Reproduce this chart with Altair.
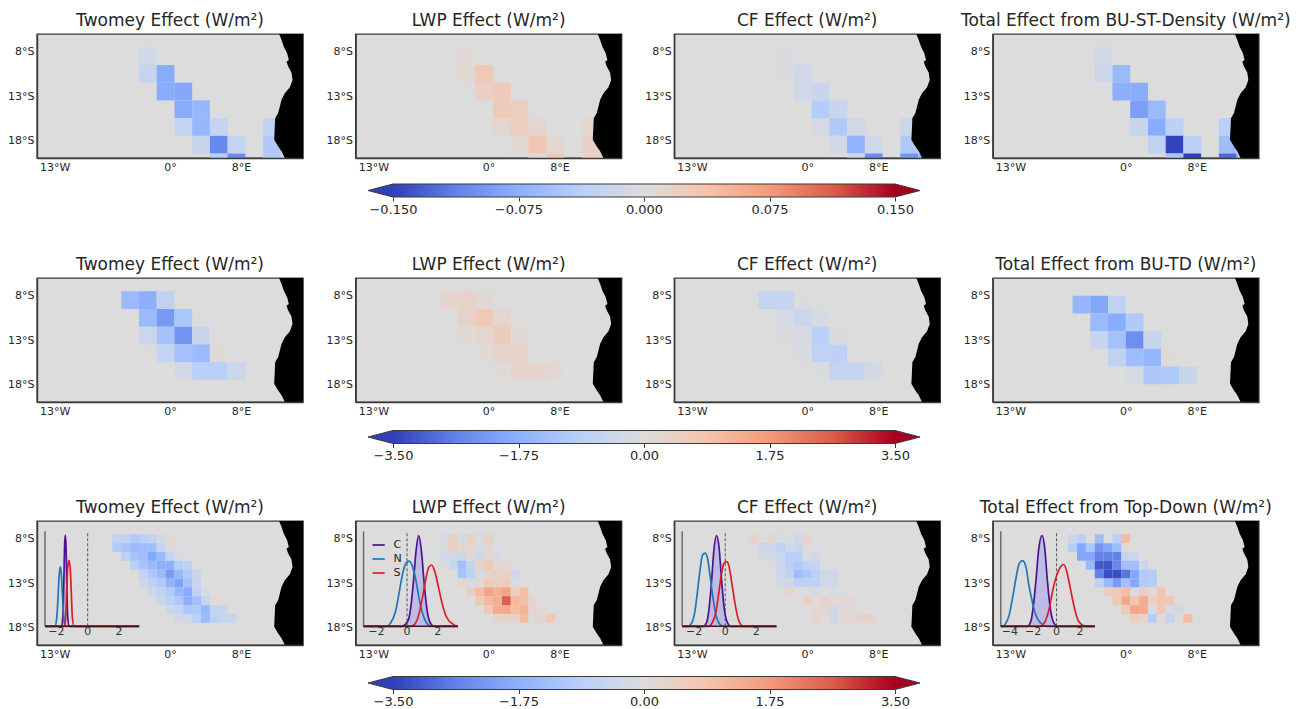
import altair as alt
import pandas as pd
import numpy as np

FONT = "DejaVu Sans"
INK = "#262626"
EDGE = "#3a3a3a"
LAND = "black"
SEA = "#dcdcdc"
STOPS = [-1, -0.75, -0.5, -0.25, 0, 0.25, 0.5, 0.75, 1]
COOLWARM = ["#3040b8", "#6282ea", "#8db0fe", "#b9d0f9", "#dddcdc", "#f5c4ac", "#f49a7b", "#dc5d4a", "#a8001f"]

# Coastline (degrees)
coast_lat = [-6, -6.68, -7.43, -8.18, -8.93, -9.12, -9.68, -10.35, -11.18, -12.0, -12.68, -13.43, -14.18,
             -14.93, -15.5, -16.44, -17.94, -18.69, -19.25, -20]
coast_lon = [12.31, 12.58, 12.84, 13.21, 13.40, 13.14, 13.33, 13.70, 13.82, 13.52, 12.95, 12.58, 12.39,
             12.20, 11.86, 11.82, 11.75, 12.20, 12.58, 12.95]

N = None
# Each row: latitude, first longitude, cell values as a fraction of the colour-bar limit
st_twomey = [(-8.5, -2.5, [-.08]), (-10.5, -2.5, [-.17, -.52]), (-12.5, -.5, [-.52, -.55]), (-14.5, 1.5, [-.52, -.45]),
             (-16.5, 1.5, [-.17, -.45, -.17, N, N, -.2]), (-18.5, 3.5, [-.15, -.72, -.17, N, -.3]),
             (-20.5, 5.5, [-.25, -.7, N, -.3, -.2])]
st_lwp = [(-8.5, -2.5, [.03]), (-10.5, -2.5, [.04, .2]), (-12.5, -.5, [.12, .18]), (-14.5, 1.5, [.18, .15]),
          (-16.5, 1.5, [.06, .15, .06, N, N, .07]), (-18.5, 3.5, [.04, .22, .06, N, .12]),
          (-20.5, 5.5, [.05, .2, N, .12, .12])]
st_cf = [(-8.5, -2.5, [-.02]), (-10.5, -2.5, [-.02, -.1]), (-12.5, -.5, [-.1, -.14]), (-14.5, 1.5, [-.28, -.15]),
         (-16.5, 1.5, [-.06, -.3, -.08, N, N, -.12]), (-18.5, 3.5, [-.08, -.48, -.1, N, -.3]),
         (-20.5, 5.5, [-.15, -.7, N, -.65, -.45])]
st_total = [(-8.5, -2.5, [-.08]), (-10.5, -2.5, [-.12, -.42]), (-12.5, -.5, [-.5, -.52]), (-14.5, 1.5, [-.6, -.42]),
            (-16.5, 1.5, [-.15, -.52, -.22, N, N, -.25]), (-18.5, 3.5, [-.2, -.98, -.22, N, -.4]),
            (-20.5, 5.5, [-.35, -1.0, N, -.85, -.4])]

td_twomey = [(-8.5, -4.5, [-.42, -.5, -.2]), (-10.5, -2.5, [-.42, -.62, -.33]), (-12.5, -2.5, [-.13, -.35, -.65, -.15]),
             (-14.5, -.5, [-.17, -.37, -.42, .02]), (-16.5, 1.5, [-.08, -.25, -.25, -.12])]
td_lwp = [(-8.5, -4.5, [.08, .1, .04]), (-10.5, -2.5, [.1, .2, .07]), (-12.5, -2.5, [.03, .06, .17, .02]),
          (-14.5, -.5, [.03, .09, .11]), (-16.5, 1.5, [.02, .09, .09, .04])]
td_cf = [(-8.5, -4.5, [-.17, -.17, -.03]), (-10.5, -2.5, [-.06, -.12, -.05]), (-12.5, -2.5, [-.02, -.05, -.23, -.02]),
         (-14.5, -.5, [-.04, -.2, -.22]), (-16.5, 1.5, [-.02, -.18, -.18, -.07])]
td_total = [(-9, -5, [-.45, -.55, -.2]), (-11, -3, [-.42, -.52, -.3]), (-13, -3, [-.15, -.37, -.68, -.15]),
            (-15, -1, [-.2, -.4, -.45, .02]), (-17, 1, [-.06, -.32, -.3, -.14])]

fine_twomey = [(-8, -6, [-.2, -.2, -.3, -.25, -.2, -.07, .05]), (-9, -6, [-.3, -.35, -.42, -.4, -.4, -.17, .02]),
               (-10, -5, [-.22, -.35, -.4, -.55, -.42, -.17, -.06]), (-11, -4, [-.25, -.35, -.42, -.5, -.5, -.27, -.2]),
               (-12, -3, [-.18, -.32, -.42, -.62, -.45, -.3, -.15]), (-13, -3, [-.1, -.22, -.3, -.48, -.58, -.35, -.17]),
               (-14, -2, [-.12, -.2, -.3, -.45, -.52, -.2, -.05]), (-15, -1, [-.15, -.25, -.32, -.5, -.38, -.17, .03]),
               (-16, 0, [-.12, -.17, -.32, -.3, -.45, -.17, -.15]), (-17, 1, [-.07, -.1, -.25, -.42, -.22, -.17, -.15])]
fine_lwp = [(-8, -5, [-.06, .13, -.06, .12, -.03, .12]), (-9, -5, [-.02, .15, .06, .07, -.04, .04]),
            (-10, -5, [-.1, -.1, -.12, .04, -.08, .04, -.07]), (-11, -4, [-.15, -.38, -.18, .1, .2, .05, .05]),
            (-12, -3, [-.35, -.22, -.05, .1, .12, .12, -.1]), (-13, -3, [.07, -.05, .04, .18, .15, .18, -.05]),
            (-14, -2, [.15, .3, .45, .38, .45, .15, .28]), (-15, -1, [.2, .33, .38, .75, .32, .28, .08]),
            (-16, 0, [.2, .4, .42, .28, .35, .06, .03]), (-17, 1, [.08, .1, .08, .3, -.03, .08, .2])]
fine_cf = [(-8, -6, [.08, 0, .08, -.05, -.02, -.1, .08]), (-9, -6, [-.03, -.15, -.12, -.2, -.1, -.15, .02]),
           (-10, -5, [-.07, -.08, -.13, -.25, -.25, -.02, -.08]), (-11, -3, [-.13, -.25, -.3, -.2, -.18]),
           (-12, -3, [-.13, -.2, -.4, -.32, -.25, -.12, -.1]), (-13, -3, [-.1, -.1, -.22, -.2, -.2, -.1, -.1]),
           (-14, -2, [.07, 0, -.02, -.06, 0, -.04, -.03]), (-15, 0, [.12, .03, .08, .05, .04, .04]),
           (-16, 1, [.05, .07, -.08, .03, .04, -.01]), (-17, 1, [.08, .02, -.1, .04, .05, .08, .1])]
fine_total = [(-8, -6, [-.12, -.25, N, -.4, N, -.25, .3]), (-9, -6, [-.28, -.55, -.32, -.65, -.55, -.4, .03]),
              (-10, -5, [-.55, -.55, -.75, -.75, -.75, -.17, -.13]), (-11, -4, [-.42, -.9, -.92, -.72, -.38, -.38, -.13]),
              (-12, -3, [-.75, -.95, -.95, -.8, -.55, -.3, -.28]), (-13, -3, [-.2, -.42, -.62, -.38, -.55, -.3, -.28]),
              (-14, -2, [.15, .2, .3, -.05, .15, .05, .25]), (-15, -1, [.2, .42, .25, .4, .13, .25, .2]),
              (-16, 0, [.2, .42, .4, -.05, .22, -.04, -.08]), (-17, 1, [.15, .08, -.28, .03, -.18, .03, .28])]

# Inset density curves: [x values], [height relative to the inset's y axis]
twomey_c = ([-1.66, -1.575, -1.51, -1.47, -1.43, -1.38, -1.34, -1.28, -1.17], [0, .12, .55, .85, .96, .85, .55, .12, 0])
twomey_n = ([-2.09, -1.98, -1.89, -1.81, -1.745, -1.68, -1.60, -1.51, -1.40], [0, .07, .3, .55, .625, .55, .3, .07, 0])
twomey_s = ([-1.49, -1.40, -1.34, -1.28, -1.19, -1.11, -1.04, -.98, -.87], [0, .1, .35, .6, .695, .6, .35, .1, 0])
lwp_c = ([-.37, -.11, .11, .28, .43, .59, .76, .93, 1.09, 1.24, 1.41, 1.63, 1.78],
         [0, .02, .08, .25, .5, .8, .955, .8, .5, .25, .08, .01, 0])
lwp_n = ([-1.37, -1.09, -.76, -.54, -.33, -.11, .15, .37, .59, .80, 1.02, 1.30, 1.52],
         [0, .03, .15, .33, .52, .65, .685, .62, .47, .28, .13, .03, 0])
lwp_s = ([.28, .54, .76, .98, 1.20, 1.41, 1.59, 1.80, 2.02, 2.24, 2.46, 2.67, 2.93, 3.26],
         [0, .03, .12, .28, .48, .62, .645, .58, .43, .27, .14, .07, .03, 0])
cf_c = ([-1.42, -1.20, -1.03, -.88, -.73, -.56, -.41, -.24, -.09, .09, .34], [0, .04, .2, .47, .8, .955, .85, .5, .22, .06, 0])
cf_n = ([-2.39, -2.17, -1.96, -1.81, -1.63, -1.46, -1.29, -1.12, -.95, -.77, -.60, -.39, -.13],
        [0, .03, .15, .33, .58, .75, .77, .7, .5, .28, .12, .03, 0])
cf_s = ([-1.05, -.82, -.60, -.43, -.26, -.09, .09, .26, .43, .60, .77, .95, 1.16],
        [0, .04, .15, .33, .53, .66, .68, .62, .45, .27, .12, .03, 0])
tot_c = ([-2.47, -2.18, -1.98, -1.75, -1.52, -1.24, -1.01, -.80, -.60, -.37, .06], [0, .06, .22, .5, .82, .955, .82, .5, .25, .08, 0])
tot_n = ([-4.63, -4.34, -4.05, -3.76, -3.48, -3.19, -2.90, -2.61, -2.39, -2.10, -1.81, -1.47, -.83],
         [0, .03, .12, .3, .5, .66, .69, .62, .45, .27, .13, .05, 0])
tot_s = ([-1.47, -1.03, -.66, -.32, -.03, .26, .63, .92, 1.21, 1.55, 1.90, 2.5],
         [0, .04, .17, .38, .52, .61, .65, .55, .38, .18, .05, 0])

SERIES = ["C", "N", "S"]
SERIES_COLORS = ["#4b1391", "#1f77b4", "#dc1c24"]

PANEL_W, PANEL_H = 266, 124
X_DOM, Y_DOM = [-15, 15], [-20, -6]
INSET_F = (0.03, 0.384)
INSET_Y = [-0.197, 1.108]


def cell_table(rows, step, limit):
    out = []
    for lat, first, vals in rows:
        for i, v in enumerate(vals):
            if v is None:
                continue
            lon = first + i * step
            out.append(dict(lon0=lon - step / 2, lon1=lon + step / 2, lat0=lat - step / 2, lat1=lat + step / 2,
                            val=v * limit))
    return pd.DataFrame(out)


def color_scale(limit):
    return alt.Scale(domain=[s * limit for s in STOPS], range=COOLWARM, interpolate="rgb")


def map_layer(rows, step, limit):
    xs = alt.Scale(domain=X_DOM, nice=False, zero=False)
    ys = alt.Scale(domain=Y_DOM, nice=False, zero=False)
    cells = alt.Chart(cell_table(rows, step, limit)).mark_rect(clip=True, strokeWidth=0).encode(
        x=alt.X("lon0:Q", scale=xs, axis=alt.Axis(
            values=[-13, 0, 8], title=None, grid=False, ticks=False, labelPadding=3, labelFontSize=11, labelColor=INK,
            labelFont=FONT, domainColor=EDGE, domainWidth=1.4, zindex=1, labels=True,
            labelExpr="datum.value<0?abs(datum.value)+'°W':datum.value>0?datum.value+'°E':'0°'")),
        x2="lon1:Q",
        y=alt.Y("lat0:Q", scale=ys, axis=alt.Axis(
            values=[-8, -13, -18], title=None, grid=False, ticks=False, labelPadding=3, labelFontSize=11, labelColor=INK,
            labelFont=FONT, domainColor=EDGE, domainWidth=1.4, zindex=1, labels=True,
            labelExpr="abs(datum.value)+'°S'")),
        y2="lat1:Q",
        color=alt.Color("val:Q", scale=color_scale(limit), legend=None),
    )
    land = alt.Chart(pd.DataFrame(dict(lat=coast_lat, lon=coast_lon, edge=[X_DOM[1]] * len(coast_lat)))).mark_area(
        color=LAND, orient="horizontal", clip=True).encode(
        x=alt.X("lon:Q", scale=xs), x2="edge:Q", y=alt.Y("lat:Q", scale=ys))
    return alt.layer(cells, land)


def inset_layer(curves, x0, x1, ticks, legend=False):
    f0, f1 = INSET_F
    span = (x1 - x0) / (f1 - f0)
    lo = x0 - f0 * span
    xs = alt.Scale(domain=[lo, lo + span], nice=False, zero=False)
    ys = alt.Scale(domain=INSET_Y, nice=False, zero=False)
    X = lambda f: alt.X(f, scale=xs, axis=None)
    Y = lambda f: alt.Y(f, scale=ys, axis=None)
    rows = []
    for name, (cx, cy) in zip(SERIES, curves):
        px = [x0] + list(cx) + [x1]
        py = [0] + list(cy) + [0]
        for i, (a, b) in enumerate(zip(px, py)):
            rows.append(dict(series=name, x=a, y=b, i=i))
    df = pd.DataFrame(rows)
    lg = alt.Legend(orient="none", legendX=16, legendY=17, title=None, symbolType="stroke", symbolSize=150,
                    symbolStrokeWidth=1.7, labelFontSize=11, labelFont=FONT, labelColor=INK, rowPadding=2,
                    labelOffset=8) if legend else None
    shade = alt.Chart(df[df.series == "C"]).mark_area(color="#a9a6e6", opacity=0.6).encode(x=X("x:Q"), y=Y("y:Q"))
    y_line = alt.Chart(pd.DataFrame(dict(x=[x0], a=[0.0], b=[1.0]))).mark_rule(color="#666666", strokeWidth=1.4).encode(
        x=X("x:Q"), y=Y("a:Q"), y2="b:Q")
    zero = alt.Chart(pd.DataFrame(dict(x=[0.0], a=[0.0], b=[1.0]))).mark_rule(
        color="#444444", strokeWidth=0.9, strokeDash=[3, 2]).encode(x=X("x:Q"), y=Y("a:Q"), y2="b:Q")
    lines = alt.Chart(df).mark_line(strokeWidth=1.7, interpolate="monotone").encode(
        x=X("x:Q"), y=Y("y:Q"), order="i:Q",
        color=alt.Color("series:N", scale=alt.Scale(domain=SERIES, range=SERIES_COLORS), legend=lg))
    base = alt.Chart(pd.DataFrame(dict(a=[x0], b=[x1], y=[0.0]))).mark_rule(color="#4a1018", strokeWidth=1.4).encode(
        x=X("a:Q"), x2="b:Q", y=Y("y:Q"))
    tick_text = alt.Chart(pd.DataFrame(dict(x=ticks, y=[0.0] * len(ticks)))).mark_text(
        font=FONT, fontSize=11, color="#333333", baseline="middle", dy=6).encode(
        x=X("x:Q"), y=Y("y:Q"), text=alt.Text("label:N")).transform_calculate(
        label="replace(format(datum.x,'d'),'-','−')")
    return alt.layer(shade, zero, y_line, lines, base, tick_text)


def panel(title, rows, step, limit, inset=None):
    m = map_layer(rows, step, limit)
    if inset is not None:
        c = alt.layer(m, inset).resolve_scale(x="independent", y="independent", color="independent")
    else:
        c = m
    return c.properties(
        width=PANEL_W, height=PANEL_H,
        view=alt.ViewBackground(fill=SEA, stroke=EDGE, strokeWidth=1.4),
        title=alt.TitleParams(title, fontSize=17, fontWeight="normal", font=FONT, color=INK, anchor="middle", offset=4),
    )


def colorbar(limit, fmt):
    per_px = 2 * limit / 502
    lo = -limit - 356 * per_px
    hi = lo + 1221 * per_px
    tip = 25 * per_px
    xs = alt.Scale(domain=[lo, hi], nice=False, zero=False)
    ys = alt.Scale(domain=[0, 1], nice=False, zero=False)
    edges = np.linspace(-limit, limit, 201)
    g = pd.DataFrame(dict(a=edges[:-1], b=np.minimum(edges[1:] + (edges[1] - edges[0]), limit),
                          m=(edges[:-1] + edges[1:]) / 2))
    bar = alt.Chart(g).mark_rect(strokeWidth=0).encode(
        x=alt.X("a:Q", scale=xs, axis=alt.Axis(
            values=[-limit, -limit / 2, 0, limit / 2, limit], title=None, grid=False, domain=False, tickSize=4,
            tickColor=EDGE, tickWidth=1, labelPadding=2, labelFontSize=13, labelFont=FONT, labelColor=INK,
            labelExpr=f"replace(format(datum.value,'{fmt}'),'-','−')")),
        x2="b:Q",
        color=alt.Color("m:Q", scale=color_scale(limit), legend=None),
    )
    left = alt.Chart(pd.DataFrame(dict(x=[-limit - tip, -limit], a=[.5, 0], b=[.5, 1]))).mark_area(color=COOLWARM[0]).encode(
        x=alt.X("x:Q", scale=xs), y=alt.Y("a:Q", scale=ys, axis=None), y2="b:Q")
    right = alt.Chart(pd.DataFrame(dict(x=[limit, limit + tip], a=[0, .5], b=[1, .5]))).mark_area(color=COOLWARM[-1]).encode(
        x=alt.X("x:Q", scale=xs), y=alt.Y("a:Q", scale=ys, axis=None), y2="b:Q")
    out = pd.DataFrame(dict(x=[-limit - tip, -limit, limit, limit + tip, limit, -limit, -limit - tip],
                            y=[.5, 1, 1, .5, 0, 0, .5], i=range(7)))
    outline = alt.Chart(out).mark_line(color=EDGE, strokeWidth=1).encode(
        x=alt.X("x:Q", scale=xs), y=alt.Y("y:Q", scale=ys, axis=None), order="i:Q")
    return alt.layer(bar, left, right, outline).properties(width=1221, height=13)


T = "(W/m²)"
IND = dict(color="independent")
row1 = alt.hconcat(
    panel(f"Twomey Effect {T}", st_twomey, 2, 0.15),
    panel(f"LWP Effect {T}", st_lwp, 2, 0.15),
    panel(f"CF Effect {T}", st_cf, 2, 0.15),
    panel(f"Total Effect from BU-ST-Density {T}", st_total, 2, 0.15),
    spacing=52.6, bounds="flush").resolve_scale(**IND)
row2 = alt.hconcat(
    panel(f"Twomey Effect {T}", td_twomey, 2, 3.5),
    panel(f"LWP Effect {T}", td_lwp, 2, 3.5),
    panel(f"CF Effect {T}", td_cf, 2, 3.5),
    panel(f"Total Effect from BU-TD {T}", td_total, 2, 3.5),
    spacing=52.6, bounds="flush").resolve_scale(**IND)
row3 = alt.hconcat(
    panel(f"Twomey Effect {T}", fine_twomey, 1, 3.5,
          inset_layer((twomey_c, twomey_n, twomey_s), -2.72, 3.28, [-2, 0, 2])),
    panel(f"LWP Effect {T}", fine_lwp, 1, 3.5,
          inset_layer((lwp_c, lwp_n, lwp_s), -2.83, 3.30, [-2, 0, 2], legend=True)),
    panel(f"CF Effect {T}", fine_cf, 1, 3.5,
          inset_layer((cf_c, cf_n, cf_s), -2.77, 3.29, [-2, 0, 2])),
    panel(f"Total Effect from Top-Down {T}", fine_total, 1, 3.5,
          inset_layer((tot_c, tot_n, tot_s), -4.77, 3.28, [-4, -2, 0, 2])),
    spacing=52.6, bounds="flush").resolve_scale(**IND)

g1 = alt.vconcat(row1, colorbar(0.15, ".3f"), spacing=9).resolve_scale(**IND)
g2 = alt.vconcat(row2, colorbar(3.5, ".2f"), spacing=11.5).resolve_scale(**IND)
g3 = alt.vconcat(row3, colorbar(3.5, ".2f"), spacing=14.5).resolve_scale(**IND)
chart = alt.vconcat(alt.vconcat(g1, g2, spacing=39).resolve_scale(**IND), g3, spacing=35).resolve_scale(**IND).properties(
    padding={"left": -2, "top": 3, "right": 0, "bottom": 0}
).configure_view(stroke=None)

chart.save("out.html", embed_options={"renderer": "svg", "actions": False})
